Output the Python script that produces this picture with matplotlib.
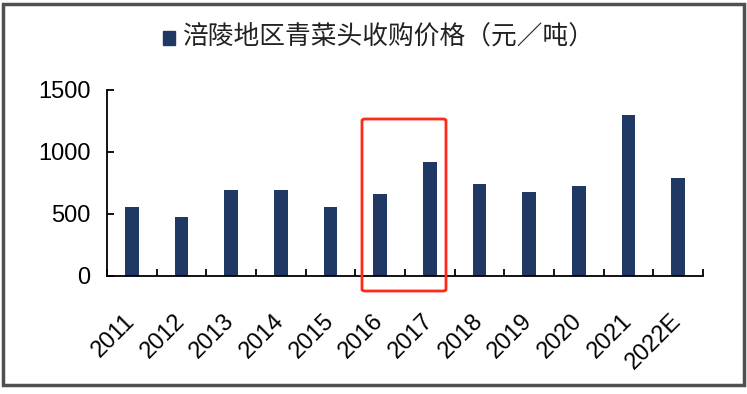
import matplotlib
matplotlib.use("Agg")
import matplotlib.pyplot as plt
from matplotlib.patches import Rectangle, FancyBboxPatch
import numpy as np

plt.rcParams['font.family'] = ['Liberation Sans', 'DejaVu Sans']

years = ['2011', '2012', '2013', '2014', '2015', '2016', '2017', '2018',
         '2019', '2020', '2021', '2022E']
prices = [554, 476, 693, 693, 559, 661, 916, 742, 680, 726, 1298, 790]
series_name = '涪陵地区青菜头收购价格（元／吨）'
yticks = [0, 500, 1000, 1500]

W, H = 747, 394
fig = plt.figure(figsize=(W / 100, H / 100), dpi=100)
ax = fig.add_axes([107 / W, 1 - 276 / H, (703 - 107) / W, (276 - 90) / H])

x = np.arange(len(years))
bar_color = '#203864'
ax.bar(x, prices, width=0.28, color=bar_color, zorder=2)

ax.set_xlim(-0.5, len(years) - 0.5)
ax.set_ylim(0, 1500)
ax.set_yticks(yticks)
ax.set_yticklabels([str(v) for v in yticks], fontsize=17)
ax.set_xticks(x)
ax.set_xticklabels(years, fontsize=17, rotation=45, ha='right',
                   rotation_mode='anchor', va='center')
ax.tick_params(axis='x', which='major', length=0, pad=30)
ax.set_xticks(np.arange(-0.5, len(years)), minor=True)
ax.tick_params(axis='x', which='minor', direction='in', length=5, width=1.3)
ax.tick_params(axis='y', direction='in', length=5, width=1.3, pad=12)
for s in ['top', 'right']:
    ax.spines[s].set_visible(False)
for s in ['left', 'bottom']:
    ax.spines[s].set_linewidth(1.3)

# legend
fig.patches.append(Rectangle((163 / W, 1 - 45 / H), 12 / W, 14 / H,
                             transform=fig.transFigure, color=bar_color))
fig.text(183 / W, 1 - 38 / H, series_name, fontsize=18.5,
         family=['Noto Sans CJK SC', 'DejaVu Sans'], va='center', ha='left',
         color='#222222')

# red highlight box
fig.patches.append(FancyBboxPatch((362 / W, 1 - 291 / H), (446 - 362) / W,
                                  (291 - 119) / H,
                                  boxstyle='round,pad=0,rounding_size=0.004',
                                  transform=fig.transFigure, fill=False,
                                  edgecolor='#ff2a1a', linewidth=2, zorder=5))

# outer border
fig.patches.append(Rectangle((3 / W, 1 - 385 / H), (744 - 3) / W, (385 - 4) / H,
                             transform=fig.transFigure, fill=False,
                             edgecolor='#505050', linewidth=2.5))

fig.savefig('out.png', dpi=100)
